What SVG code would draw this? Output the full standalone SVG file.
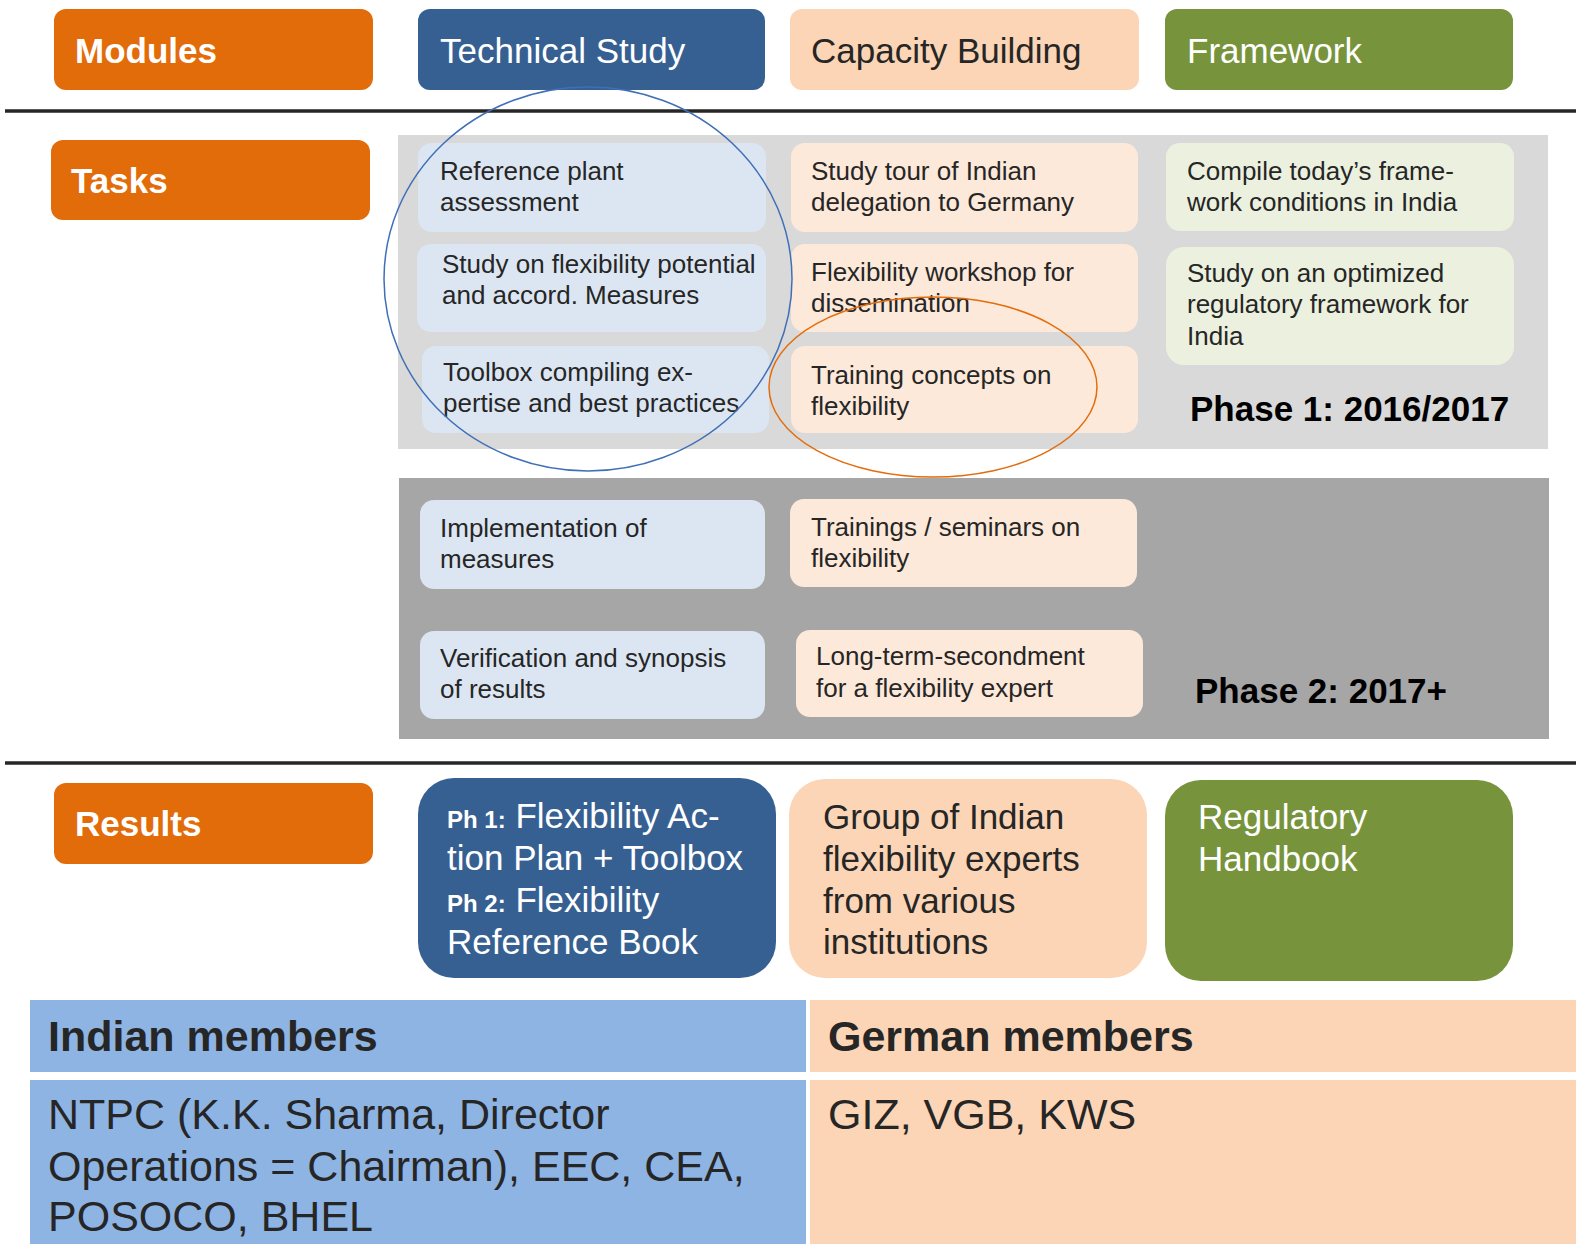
<svg xmlns="http://www.w3.org/2000/svg" width="1576" height="1244" viewBox="0 0 1576 1244">
<style>
text{font-family:"Liberation Sans",Arial,sans-serif}
.hd{font-size:35px;font-weight:bold;fill:#fff}
.mod{font-size:35px}
.t{font-size:26px;fill:#262626}
.ph{font-size:35px;font-weight:bold;fill:#000}
.res{font-size:35px}
.w{fill:#fff}
.k{fill:#262626}
.orange{fill:#e36c0a}
.tb{fill:#dce6f2}
.tp{fill:#fde9d9}
.tg{fill:#ebf1de}
.rule{stroke:#262626;stroke-width:3.5}
.tbl{font-size:43px;fill:#262626}
</style>
<rect width="1576" height="1244" fill="#fff"/>
<g id="phase1-bg"><rect x="398" y="135" width="1150" height="314" fill="#d9d9d9"/></g>
<g id="phase2-bg"><rect x="399" y="478" width="1150" height="261" fill="#a6a6a6"/></g>
<g id="rules">
<line class="rule" x1="5" y1="111" x2="1576" y2="111"/>
<line class="rule" x1="5" y1="763" x2="1576" y2="763"/>
</g>
<g id="modules"><rect class="orange" x="54" y="9" width="319" height="81" rx="12"/><text class="hd" x="75" y="63">Modules</text></g>
<g id="technical-study"><rect x="418" y="9" width="347" height="81" rx="12" fill="#376092"/><text class="mod w" x="440" y="63">Technical Study</text></g>
<g id="capacity-building"><rect x="790" y="9" width="349" height="81" rx="12" fill="#fbd5b5"/><text class="mod k" x="811" y="63">Capacity Building</text></g>
<g id="framework"><rect x="1165" y="9" width="348" height="81" rx="12" fill="#77933c"/><text class="mod w" x="1187" y="63">Framework</text></g>
<g id="tasks"><rect class="orange" x="51" y="140" width="319" height="80" rx="12"/><text class="hd" x="71" y="193">Tasks</text></g>
<g id="task-reference-plant"><rect class="tb" x="418" y="143" width="348" height="89" rx="14"/><text class="t" x="440" y="180">Reference plant</text><text class="t" x="440" y="211">assessment</text></g>
<g id="task-study-flexibility"><rect class="tb" x="417" y="244" width="349" height="88" rx="14"/><text class="t" x="442" y="273">Study on flexibility potential</text><text class="t" x="442" y="304">and accord. Measures</text></g>
<g id="task-toolbox"><rect class="tb" x="422" y="346" width="347" height="87" rx="14"/><text class="t" x="443" y="381">Toolbox compiling ex-</text><text class="t" x="443" y="412">pertise and best practices</text></g>
<g id="task-study-tour"><rect class="tp" x="791" y="143" width="347" height="89" rx="14"/><text class="t" x="811" y="180">Study tour of Indian</text><text class="t" x="811" y="211">delegation to Germany</text></g>
<g id="task-workshop"><rect class="tp" x="791" y="244" width="347" height="88" rx="14"/><text class="t" x="811" y="281">Flexibility workshop for</text><text class="t" x="811" y="312">dissemination</text></g>
<g id="task-training-concepts"><rect class="tp" x="791" y="346" width="347" height="87" rx="14"/><text class="t" x="811" y="384">Training concepts on</text><text class="t" x="811" y="415">flexibility</text></g>
<g id="task-compile"><rect class="tg" x="1166" y="143" width="348" height="88" rx="14"/><text class="t" x="1187" y="180">Compile today’s frame-</text><text class="t" x="1187" y="211">work conditions in India</text></g>
<g id="task-regulatory-study"><rect class="tg" x="1166" y="247" width="348" height="118" rx="18"/><text class="t" x="1187" y="282">Study on an optimized</text><text class="t" x="1187" y="313">regulatory framework for</text><text class="t" x="1187" y="345">India</text></g>
<g id="phase1-label"><text class="ph" x="1190" y="421">Phase 1: 2016/2017</text></g>
<g id="task-implementation"><rect class="tb" x="420" y="500" width="345" height="89" rx="14"/><text class="t" x="440" y="537">Implementation of</text><text class="t" x="440" y="568">measures</text></g>
<g id="task-trainings"><rect class="tp" x="790" y="499" width="347" height="88" rx="14"/><text class="t" x="811" y="536">Trainings / seminars on</text><text class="t" x="811" y="567">flexibility</text></g>
<g id="task-verification"><rect class="tb" x="420" y="631" width="345" height="88" rx="14"/><text class="t" x="440" y="667">Verification and synopsis</text><text class="t" x="440" y="698">of results</text></g>
<g id="task-secondment"><rect class="tp" x="796" y="630" width="347" height="87" rx="14"/><text class="t" x="816" y="665">Long-term-secondment</text><text class="t" x="816" y="697">for a flexibility expert</text></g>
<g id="phase2-label"><text class="ph" x="1195" y="703">Phase 2: 2017+</text></g>
<g id="highlights" fill="none" stroke-width="1.5">
<ellipse cx="588" cy="279" rx="204" ry="192" stroke="#3f6fb6"/>
<ellipse cx="933" cy="387" rx="164" ry="90" stroke="#e46c0a"/>
</g>
<g id="results"><rect class="orange" x="54" y="783" width="319" height="81" rx="12"/><text class="hd" x="75" y="836">Results</text></g>
<g id="result-technical"><rect x="418" y="778" width="358" height="200" rx="36" fill="#376092"/>
<text class="res w" x="447" y="828"><tspan font-size="24" font-weight="bold">Ph 1:</tspan> Flexibility Ac-</text>
<text class="res w" x="447" y="870">tion Plan + Toolbox</text>
<text class="res w" x="447" y="912"><tspan font-size="24" font-weight="bold">Ph 2:</tspan> Flexibility</text>
<text class="res w" x="447" y="954">Reference Book</text></g>
<g id="result-capacity"><rect x="789" y="779" width="358" height="199" rx="36" fill="#fbd5b5"/>
<text class="res k" x="823" y="829">Group of Indian</text>
<text class="res k" x="823" y="871">flexibility experts</text>
<text class="res k" x="823" y="913">from various</text>
<text class="res k" x="823" y="954">institutions</text></g>
<g id="result-framework"><rect x="1165" y="780" width="348" height="201" rx="36" fill="#77933c"/>
<text class="res w" x="1198" y="829">Regulatory</text>
<text class="res w" x="1198" y="871">Handbook</text></g>
<g id="indian-members"><rect x="30" y="1000" width="776" height="72" fill="#8eb4e3"/><text class="tbl" x="48" y="1051" font-weight="bold">Indian members</text>
<rect x="30" y="1080" width="776" height="164" fill="#8eb4e3"/>
<text class="tbl" x="48" y="1129">NTPC (K.K. Sharma, Director</text>
<text class="tbl" x="48" y="1181">Operations = Chairman), EEC, CEA,</text>
<text class="tbl" x="48" y="1231">POSOCO, BHEL</text></g>
<g id="german-members"><rect x="810" y="1000" width="766" height="72" fill="#fbd5b5"/><text class="tbl" x="828" y="1051" font-weight="bold">German members</text>
<rect x="810" y="1080" width="766" height="164" fill="#fbd5b5"/>
<text class="tbl" x="828" y="1129">GIZ, VGB, KWS</text></g>
</svg>
